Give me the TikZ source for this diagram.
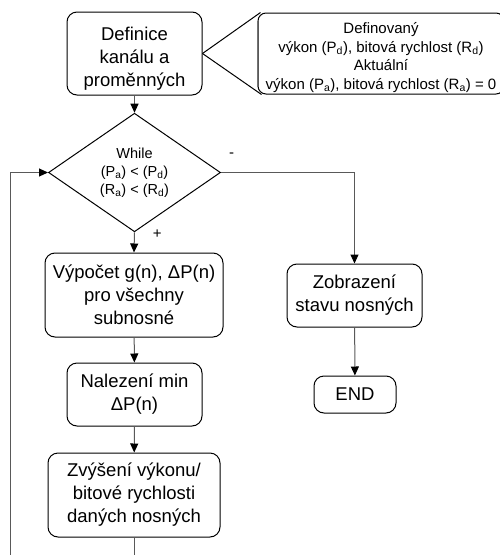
\documentclass[tikz,border=0pt]{standalone}
\usepackage{fontspec}
\setmainfont{Liberation Sans}
\usetikzlibrary{arrows.meta, shapes.geometric}

\begin{document}
\begin{tikzpicture}[x=1pt, y=-1pt, line width=1pt,
  box/.style={draw, rounded corners=10pt, align=center, inner sep=0pt,
    font=\fontsize{18.5}{23}\selectfont},
  decision/.style={draw, diamond, align=center, inner sep=0pt,
    minimum width=172pt, minimum height=105pt, font=\fontsize{14.5}{18}\selectfont},
  note/.style={draw, rounded corners=8pt, align=center, inner sep=0pt,
    font=\fontsize{15}{18.5}\selectfont},
  flow/.style={draw=black!65, -{Triangle[length=9pt, width=8pt, color=black]}},
  sign/.style={inner sep=2pt, font=\fontsize{15}{18}\selectfont}]
  \useasboundingbox (0,0) rectangle (500,555);
  \clip (0,0) rectangle (500,555);

  % start and its note
  \node[box, minimum width=135pt, minimum height=83pt] (def) at (134.5,53.5)
    {\rule{0pt}{23pt}Definice\\kanálu a\\proměnných};
  \node[note, minimum width=246pt, minimum height=81pt] (note) at (381,53.5)
    {\rule{0pt}{19pt}Definovaný\\výkon (P\textsubscript{d}), bitová rychlost (R\textsubscript{d})\\Aktuální\\výkon (P\textsubscript{a}), bitová rychlost (R\textsubscript{a}) = 0};
  \draw[black!55] ([yshift=-8pt]note.north west) -- ([yshift=8pt]note.south west);
  \draw (def.east) -- ([xshift=3pt]note.north west);
  \draw (def.east) -- ([xshift=4pt]note.south west);

  % loop condition
  \node[decision] (cond) at (134.5,172.5)
    {While\\(P\textsubscript{a}) < (P\textsubscript{d})\\(R\textsubscript{a}) < (R\textsubscript{d})};

  % loop body
  \node[box, minimum width=178pt, minimum height=84pt] (calc) at (134,295)
    {Výpočet g(n), ΔP(n)\\pro všechny\\subnosné};
  \node[box, minimum width=135pt, minimum height=63pt] (minp) at (134.5,394.5)
    {Nalezení min\\ΔP(n)};
  \node[box, minimum width=172pt, minimum height=84pt] (incr) at (134,495)
    {Zvýšení výkonu/\\bitové rychlosti\\daných nosných};

  % exit branch
  \node[box, minimum width=135pt, minimum height=63pt] (show) at (354.5,295.5)
    {Zobrazení\\stavu nosných};
  \node[box, minimum width=82pt, minimum height=37pt] (fin) at (355,394.5) {END};

  \coordinate (back) at (10,580);

  \draw[flow] (def) -- (cond);
  \draw[flow] (cond.south) -- node[sign, pos=0.1, right=16pt] {+} (calc.north);
  \draw[flow] (calc) -- (minp);
  \draw[flow] (minp) -- (incr);
  \draw[flow] (cond.east) -| node[sign, pos=0.04, above=13pt] {-} (show.north);
  \draw[flow] (show) -- (fin);
  \draw[flow] (incr.south) |- (back) |- (cond.west);
\end{tikzpicture}
\end{document}
